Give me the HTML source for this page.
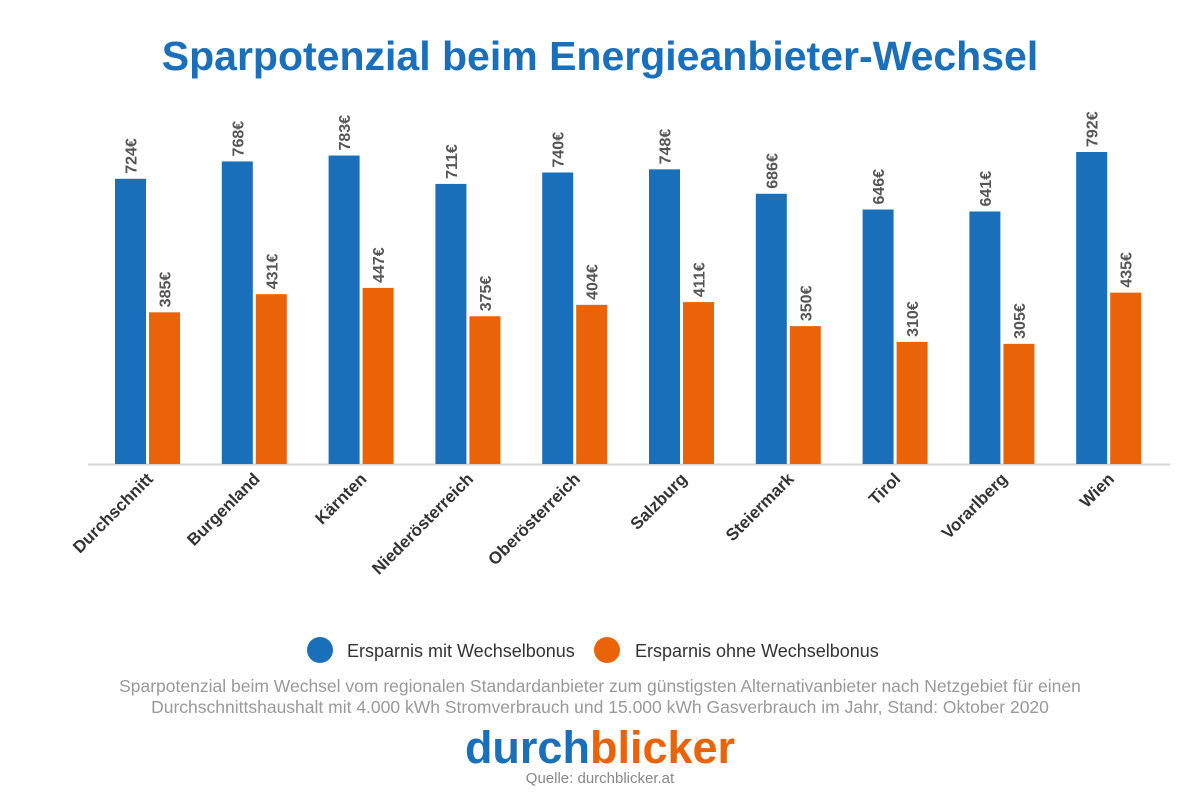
<!DOCTYPE html>
<html><head><meta charset="utf-8"><style>
body{margin:0;background:#fff;font-family:"Liberation Sans",sans-serif}
#wrap{position:relative;width:1200px;height:797px;overflow:hidden}
</style></head><body>
<div id="wrap">
<svg id="svg" width="1200" height="797">
<text x="600" y="70" text-anchor="middle" font-size="41" font-weight="bold" fill="#1a6fba">Sparpotenzial beim Energieanbieter-Wechsel</text>
<line x1="88" y1="464.5" x2="1170" y2="464.5" stroke="#d5d5d5" stroke-width="2"/>
<g id="bars"></g>
<circle cx="320" cy="650" r="13" fill="#1a6fba"/>
<text x="347" y="657" font-size="18" fill="#333">Ersparnis mit Wechselbonus</text>
<circle cx="607" cy="650" r="13" fill="#ea6309"/>
<text x="635" y="657" font-size="18" fill="#333">Ersparnis ohne Wechselbonus</text>
<text x="600" y="692" text-anchor="middle" font-size="17.5" fill="#999">Sparpotenzial beim Wechsel vom regionalen Standardanbieter zum günstigsten Alternativanbieter nach Netzgebiet für einen</text>
<text x="600" y="713" text-anchor="middle" font-size="17.5" fill="#999">Durchschnittshaushalt mit 4.000 kWh Stromverbrauch und 15.000 kWh Gasverbrauch im Jahr, Stand: Oktober 2020</text>
<text x="600" y="763" text-anchor="middle" font-size="45" font-weight="bold"><tspan fill="#1a6fba">durch</tspan><tspan fill="#ea6309">blicker</tspan></text>
<text x="600" y="783" text-anchor="middle" font-size="15" fill="#888">Quelle: durchblicker.at</text>
</svg>
</div>
<script>
const categories=["Durchschnitt","Burgenland","Kärnten","Niederösterreich","Oberösterreich","Salzburg","Steiermark","Tirol","Vorarlberg","Wien"];
const mitBonus=[724,768,783,711,740,748,686,646,641,792];
const ohneBonus=[385,431,447,375,404,411,350,310,305,435];
const NS="http://www.w3.org/2000/svg";
const g=document.getElementById("bars");
const base=464, scale=312/792;
const y=v=>base-v*scale;
const x=i=>115+i*106.8;
const bw=31;
function mk(t,a){const e=document.createElementNS(NS,t);for(const k in a)e.setAttribute(k,a[k]);g.appendChild(e);return e;}
categories.forEach((c,i)=>{
 [[mitBonus,"#1a6fba",0,"bar-mit"],[ohneBonus,"#ea6309",34,"bar-ohne"]].forEach(([arr,col,off,nm])=>{
  const v=arr[i],bx=x(i)+off;
  const r=mk("rect",{x:bx,y:y(v),width:bw,height:base-y(v),fill:col});
  
  
  const cx=bx+bw/2+6,ty=y(v)-5;
  const t=mk("text",{x:0,y:0,transform:`translate(${cx},${ty}) rotate(-90)`,"font-size":"16","font-weight":"bold",fill:"#555"});
  t.textContent=v+"€";
  
  
 });
 const lx=x(i)+bw+8,ly=480;
 const l=mk("text",{x:0,y:0,transform:`translate(${lx},${ly}) rotate(-45)`,"text-anchor":"end","font-size":"17","font-weight":"bold",fill:"#333"});
 l.textContent=c;
 
 
});
</script>
</body></html>
